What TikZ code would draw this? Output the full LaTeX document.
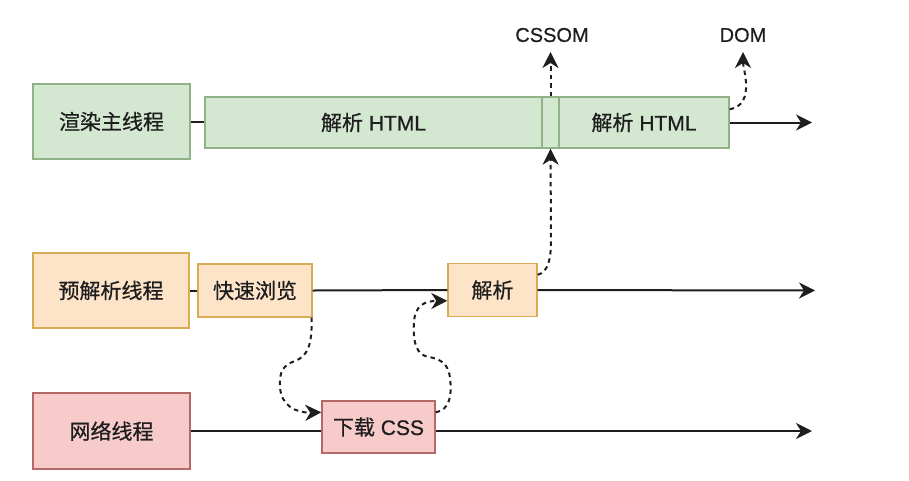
\documentclass[tikz,border=0pt]{standalone}
\usepackage{fontspec}
\setmainfont[FakeBold=0.6]{Liberation Sans}
\newfontfamily\cjk[FakeBold=0.6]{Noto Sans CJK SC}
\usetikzlibrary{arrows.meta,calc}
\definecolor{gfill}{HTML}{D3E7D1}
\definecolor{gline}{HTML}{8FB287}
\definecolor{ofill}{HTML}{FDE3C8}
\definecolor{oline}{HTML}{D8AC55}
\definecolor{pfill}{HTML}{F7CBCA}
\definecolor{pline}{HTML}{B56865}
\definecolor{txt}{HTML}{1E1E1E}
\begin{document}
\begin{tikzpicture}[x=1pt,y=-1pt,
  box/.style={draw, line width=1.4pt, inner sep=0pt, text=txt,
    font=\fontsize{21}{25}\selectfont, anchor=center},
  gbox/.style={box, fill=gfill, draw=gline},
  obox/.style={box, fill=ofill, draw=oline},
  pbox/.style={box, fill=pfill, draw=pline},
  lbl/.style={text=txt, font=\fontsize{20}{24}\selectfont, inner sep=0pt},
  conn/.style={draw=txt, line width=2pt},
  arr/.style={conn, -{Stealth[length=16pt,width=16pt,inset=5pt]}},
  darr/.style={arr, dash pattern=on 4.5pt off 4pt}
]
\useasboundingbox (0,0) rectangle (909,480);

% row 1
\node[gbox, minimum width=157pt, minimum height=75pt] (r1) at (111.5,121.5) {{\cjk 渲染主线程}};
\node[gbox, minimum width=337pt, minimum height=51pt] (html1) at (373.5,122.5) {{\cjk 解析} HTML};
\node[gbox, minimum width=17pt, minimum height=51pt] (mid) at (550.5,122.5) {};
\node[gbox, minimum width=170pt, minimum height=51pt] (html2) at (644,122.5) {{\cjk 解析} HTML};
\coordinate (e1) at (812,122.5);
\node[lbl] (cssom) at (552,35) {CSSOM};
\node[lbl] (dom) at (743,35) {DOM};
\coordinate (cssomtip) at (550.5,52);
\coordinate (domtip) at (743,52);

% row 2
\node[obox, minimum width=156pt, minimum height=75pt] (r2) at (111,290.5) {{\cjk 预解析线程}};
\node[obox, minimum width=114pt, minimum height=53pt] (fast) at (255,290.5) {{\cjk 快速浏览}};
\node[obox, minimum width=89pt, minimum height=53pt] (parse) at (492.5,290) {{\cjk 解析}};
\coordinate (e2) at (815,290.5);

% row 3
\node[pbox, minimum width=157pt, minimum height=76pt] (r3) at (111.5,431) {{\cjk 网络线程}};
\node[pbox, minimum width=113pt, minimum height=52pt] (css) at (378.5,427) {{\cjk 下载} CSS};
\coordinate (e3) at (812,431);

% solid connectors
\draw[conn] (r1.east) -- (r1.east -| html1.west);
\draw[arr] (html2.east) -- (e1);
\draw[conn] (r2.east) -- (r2.east -| fast.west);
\draw[conn] (fast.east) -- (parse.west);
\draw[arr] (parse.east) -- (e2);
\draw[conn] (r3.east) -- (r3.east -| css.west);
\draw[arr] (r3.east -| css.east) -- (e3);

% dashed connectors
\draw[darr] ($(fast.south east)+(-1,0)$) .. controls (312,345) and (308,356) .. (295,361)
  .. controls (283,365) and (279,372) .. (280,387)
  .. controls (281,405) and (295,413) .. ($(css.north west)+(0,12)$);
\draw[darr] ($(css.north east)+(0,12)$) .. controls (450,410) and (452,395) .. (450,378)
  .. controls (448,362) and (440,359) .. (425,356)
  .. controls (414,352) and (413,335) .. (414,322)
  .. controls (415,305) and (425,301) .. ($(parse.north west)+(0,38)$);
\draw[darr] ($(parse.north east)+(0,12)$) .. controls (548,272) and (551,260) .. (551,240) -- (mid.south);
\draw[darr] (mid.north) -- (cssomtip);
\draw[darr] ($(html2.north east)+(0,13)$) .. controls (742,107) and (747,98) .. (746,82)
  .. controls (745,72) and (743,65) .. (domtip);
\end{tikzpicture}
\end{document}
